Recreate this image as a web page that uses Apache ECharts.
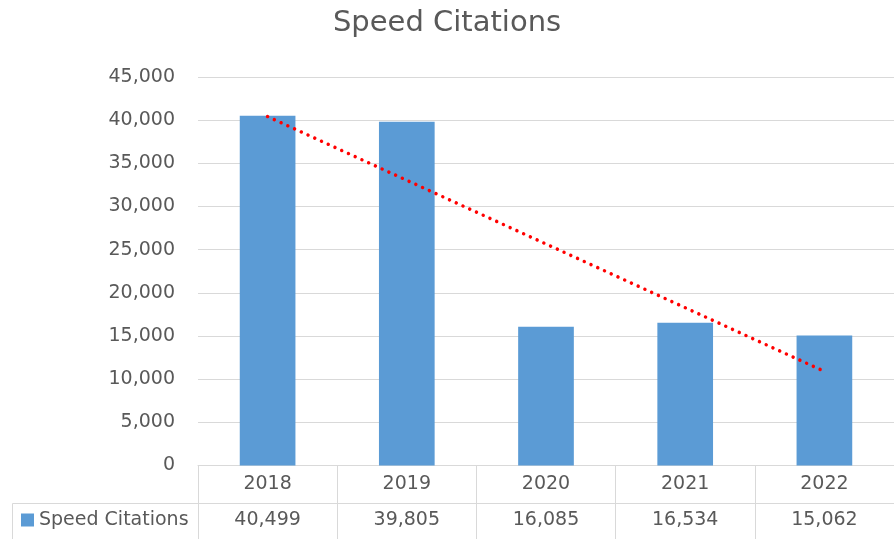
<!DOCTYPE html>
<html>
<head>
<meta charset="utf-8">
<script src="https://cdn.jsdelivr.net/npm/echarts@6/dist/echarts.min.js"></script>
<style>html,body{margin:0;padding:0;background:#fff;}#c{width:894px;height:539px;}</style>
</head>
<body>
<div id="c"></div>
<script>
var titleText = 'Speed Citations';
var seriesName = 'Speed Citations';
var years = ['2018', '2019', '2020', '2021', '2022'];
var citations = [40499, 39805, 16085, 16534, 15062];
// trendline end values (first and last year)
var trendValues = [40420, null, null, null, 10900];
var yTicks = { min: 0, max: 45000, interval: 5000 };

var FONT = 'DejaVu Sans';
var TXT = '#595959';
var GRID = '#d9d9d9';

var chart = echarts.init(document.getElementById('c'), null, { renderer: 'canvas' });
chart.setOption({
  animation: false,
  backgroundColor: '#ffffff',
  title: {
    text: titleText,
    left: 'center',
    top: 4,
    textStyle: { fontFamily: FONT, fontSize: 29, fontWeight: 'normal', color: TXT }
  },
  legend: {
    data: [seriesName],
    left: 21,
    top: 509,
    padding: 0,
    icon: 'rect',
    itemWidth: 13,
    itemHeight: 13,
    textStyle: { fontFamily: FONT, fontSize: 19, color: TXT, lineHeight: 22 }
  },
  grid: { left: 198, right: 0, top: 77, bottom: 73.5, containLabel: false },
  xAxis: [
    {
      type: 'category',
      data: years,
      position: 'bottom',
      axisLine: { show: true, lineStyle: { color: GRID, width: 1 } },
      axisTick: { show: true, interval: 0, length: 74, lineStyle: { color: GRID, width: 1 } },
      axisLabel: { interval: 0, margin: 9, fontFamily: FONT, fontSize: 19, color: TXT, lineHeight: 20 }
    },
    {
      type: 'category',
      data: years,
      position: 'bottom',
      offset: 38,
      axisLine: { show: true, lineStyle: { color: GRID, width: 1 } },
      axisTick: { show: false },
      axisLabel: {
        interval: 0, margin: 7, fontFamily: FONT, fontSize: 19, color: TXT, lineHeight: 20,
        formatter: function (v, i) { return citations[i].toLocaleString('en-US'); }
      }
    }
  ],
  yAxis: {
    type: 'value',
    min: yTicks.min,
    max: yTicks.max,
    interval: yTicks.interval,
    axisLine: { show: false },
    axisTick: { show: false },
    splitLine: { show: true, lineStyle: { color: GRID, width: 1 } },
    axisLabel: {
      margin: 23, fontFamily: FONT, fontSize: 19, color: TXT,
      formatter: function (v) { return v.toLocaleString('en-US'); }
    }
  },
  graphic: [
    { type: 'line', shape: { x1: 12.5, y1: 503.5, x2: 198, y2: 503.5 }, style: { stroke: GRID, lineWidth: 1 }, silent: true },
    { type: 'line', shape: { x1: 12.5, y1: 503.5, x2: 12.5, y2: 539 }, style: { stroke: GRID, lineWidth: 1 }, silent: true }
  ],
  series: [
    {
      name: seriesName,
      type: 'bar',
      data: citations,
      barWidth: '40%',
      itemStyle: { color: '#5B9BD5' },
      xAxisIndex: 0
    },
    {
      name: 'Linear (' + seriesName + ')',
      type: 'line',
      data: trendValues,
      connectNulls: true,
      symbol: 'none',
      xAxisIndex: 0,
      z: 5,
      lineStyle: { color: '#FF0000', width: 3.5, type: [0.01, 7.4], cap: 'round' }
    }
  ]
});
</script>
</body>
</html>
